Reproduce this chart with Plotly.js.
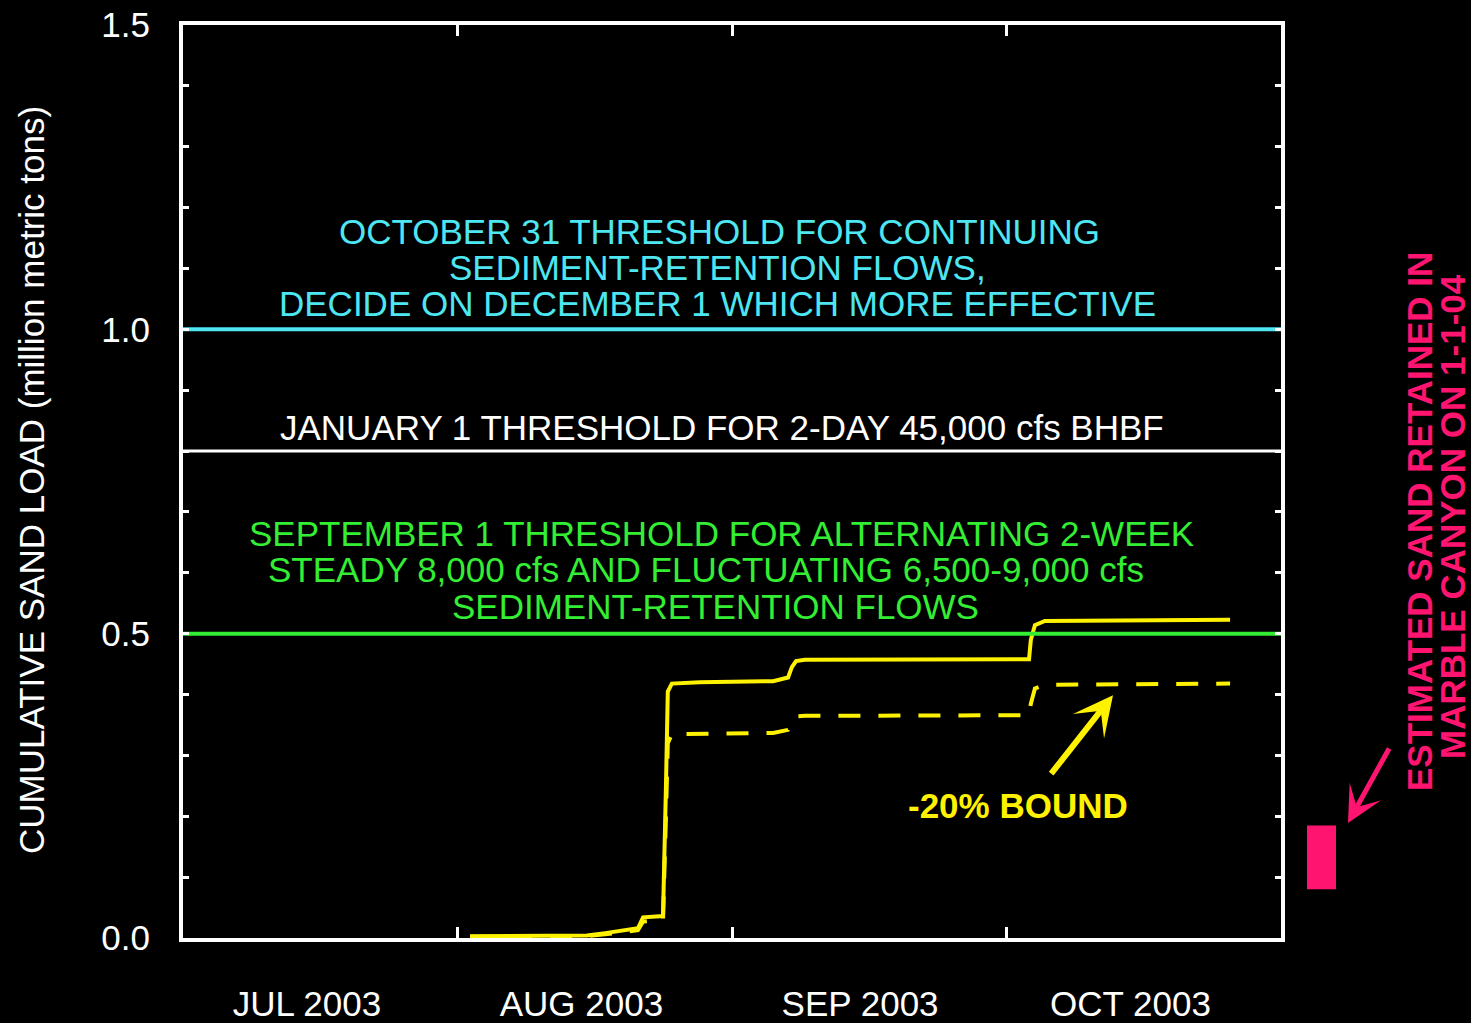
<!DOCTYPE html>
<html>
<head>
<meta charset="utf-8">
<script src="https://cdn.plot.ly/plotly-3.0.1.min.js"></script>
<style>html,body{margin:0;padding:0;background:#000;}#chart{width:1471px;height:1023px;}</style>
</head>
<body>
<div id="chart"></div>
<script>
// ---- data ----
var monthLabels = ['JUL 2003', 'AUG 2003', 'SEP 2003', 'OCT 2003'];
var monthLabelDates = ['2003-07-15', '2003-08-15', '2003-09-15', '2003-10-15'];
var monthBoundaryDates = ['2003-07-01', '2003-08-01', '2003-09-01', '2003-10-01', '2003-11-01'];

var loadDates = [
  '2003-08-02 10:00', '2003-08-15 15:00', '2003-08-17 16:00', '2003-08-20 03:00',
  '2003-08-21 09:00', '2003-08-21 23:00', '2003-08-24 05:00', '2003-08-24 13:00',
  '2003-08-24 18:00', '2003-08-25 05:00', '2003-08-28 09:00', '2003-09-05 12:00',
  '2003-09-07 03:00', '2003-09-07 13:00', '2003-09-08 00:00', '2003-09-08 23:00',
  '2003-10-03 13:00', '2003-10-03 18:00', '2003-10-04 05:00', '2003-10-05 08:00',
  '2003-10-26 06:00'
];
var sandLoad = [
  0.003, 0.004, 0.008, 0.013,
  0.016, 0.034, 0.036, 0.25,
  0.405, 0.418, 0.420, 0.422,
  0.428, 0.445, 0.455, 0.457,
  0.458, 0.49, 0.514, 0.521,
  0.523
];
var sandLoadMinus20 = [
  0.002, 0.003, 0.006, 0.010,
  0.013, 0.027, 0.029, 0.20,
  0.32, 0.335, 0.336, 0.337,
  0.342, 0.356, 0.364, 0.365,
  0.366, 0.385, 0.41, 0.416,
  0.418
];

var thresholdValues = [1.0, 0.8, 0.5];
var thresholdColors = ['#4de6f2', '#ffffff', '#33ee33'];

var retainedLow = [0.08];
var retainedHigh = [0.185];

var yTickVals = [0, 0.1, 0.2, 0.3, 0.4, 0.5, 0.6, 0.7, 0.8, 0.9, 1.0, 1.1, 1.2, 1.3, 1.4, 1.5];
var yTickText = ['0.0', '', '', '', '', '0.5', '', '', '', '', '1.0', '', '', '', '', '1.5'];

// ---- helpers: each calendar month gets equal width on the axis ----
function monthPos(s) {
  var p = s.split(' ');
  var d = p[0].split('-');
  var y = +d[0], m = +d[1], day = +d[2];
  var hh = 0;
  if (p[1]) { var t = p[1].split(':'); hh = +t[0] + (+t[1]) / 60; }
  var dim = new Date(y, m, 0).getDate();
  return (y - 2003) * 12 + (m - 7) + (day - 1 + hh / 24) / dim;
}

var FONT = 'Liberation Sans, Arial, sans-serif';
var FS = 35;
var YEL = '#fff200';
var PINK = '#ff1470';

var traces = [];
// threshold lines
thresholdValues.forEach(function (v, i) {
  traces.push({
    x: [monthPos(monthBoundaryDates[0]), monthPos(monthBoundaryDates[4])],
    y: [v, v], xaxis: 'x2', yaxis: 'y', mode: 'lines',
    line: {color: thresholdColors[i], width: i === 1 ? 3 : 4},
    hoverinfo: 'skip', showlegend: false
  });
});
// -20% bound
traces.push({
  x: loadDates.map(monthPos), y: sandLoadMinus20, xaxis: 'x', yaxis: 'y',
  mode: 'lines', line: {color: YEL, width: 4, dash: '22px,18px'},
  showlegend: false, hoverinfo: 'skip'
});
// main load
traces.push({
  x: loadDates.map(monthPos), y: sandLoad, xaxis: 'x', yaxis: 'y',
  mode: 'lines', line: {color: YEL, width: 4},
  showlegend: false, hoverinfo: 'skip'
});
// retained sand bar
traces.push({
  type: 'bar', x: [0.5], width: [1],
  base: retainedLow, y: retainedHigh.map(function (h, i) { return h - retainedLow[i]; }),
  xaxis: 'x3', yaxis: 'y', marker: {color: PINK, line: {width: 0}},
  showlegend: false, hoverinfo: 'skip'
});

var L = 183, W = 1288;
function px(p) { return (p - L) / W; }

function ann(text, xp, y, color, extra) {
  var a = {text: text, xref: 'paper', yref: 'y', x: px(xp), y: y,
    xanchor: 'center', yanchor: 'middle', showarrow: false,
    font: {family: FONT, size: FS, color: color}};
  if (extra) for (var k in extra) a[k] = extra[k];
  return a;
}

var annotations = [
  ann('OCTOBER 31 THRESHOLD FOR CONTINUING', 719, 1.16, '#4de6f2'),
  ann('SEDIMENT-RETENTION FLOWS,', 717, 1.102, '#4de6f2'),
  ann('DECIDE ON DECEMBER 1 WHICH MORE EFFECTIVE', 717, 1.043, '#4de6f2'),
  ann('JANUARY 1 THRESHOLD FOR 2-DAY 45,000 cfs BHBF', 722, 0.838, '#ffffff'),
  ann('SEPTEMBER 1 THRESHOLD FOR ALTERNATING 2-WEEK', 721, 0.664, '#33ee33'),
  ann('STEADY 8,000 cfs AND FLUCTUATING 6,500-9,000 cfs', 706, 0.605, '#33ee33'),
  ann('SEDIMENT-RETENTION FLOWS', 715, 0.545, '#33ee33'),
  ann('<b>-20% BOUND</b>', 1018, 0.2185, YEL),
  ann('<b>ESTIMATED SAND RETAINED IN</b>', 1420, 0.6835, PINK, {textangle: -90}),
  ann('<b>MARBLE CANYON ON 1-1-04</b>', 1453, 0.6917, PINK, {textangle: -90}),
  ann('CUMULATIVE SAND LOAD (million metric tons)', 32, 0.7525, '#ffffff', {textangle: -90}),
  {text: '', xref: 'paper', yref: 'y', x: px(1113), y: 0.399, ax: -63, ay: 80,
   showarrow: true, arrowhead: 3, arrowsize: 1.1, arrowwidth: 6, arrowcolor: YEL, standoff: 0},
  {text: '', xref: 'paper', yref: 'y', x: px(1348), y: 0.189, ax: 42, ay: -76,
   showarrow: true, arrowhead: 3, arrowsize: 1.2, arrowwidth: 5, arrowcolor: PINK, standoff: 0}
];

var layout = {
  width: 1471, height: 1023,
  paper_bgcolor: '#000', plot_bgcolor: '#000',
  margin: {l: L, r: 0, t: 25, b: 85},
  showlegend: false,
  font: {family: FONT, color: '#fff', size: FS},
  xaxis: {
    domain: [0, 1098 / W], range: [0, 4], showgrid: false, zeroline: false,
    tickvals: monthBoundaryDates.map(monthPos), showticklabels: false,
    ticks: 'inside', ticklen: 11, tickwidth: 3, tickcolor: '#fff',
    showline: true, linewidth: 4, linecolor: '#fff', mirror: 'ticks'
  },
  xaxis2: {
    overlaying: 'x', anchor: 'y', side: 'bottom', range: [0, 4],
    showgrid: false, zeroline: false, showline: false, ticks: '',
    tickvals: monthLabelDates.map(monthPos), ticktext: monthLabels,
    tickfont: {family: FONT, size: FS, color: '#fff'}, ticklabelstandoff: 42
  },
  xaxis3: {
    domain: [px(1307), px(1336)], anchor: 'y', range: [0, 1], visible: false, fixedrange: true
  },
  yaxis: {
    range: [0, 1.5], showgrid: false, zeroline: false,
    tickvals: yTickVals, ticktext: yTickText,
    ticks: 'inside', ticklen: 6, tickwidth: 3, tickcolor: '#fff',
    tickfont: {family: FONT, size: FS, color: '#fff'}, ticklabelstandoff: 22,
    showline: true, linewidth: 4, linecolor: '#fff', mirror: 'ticks'
  },
  annotations: annotations
};

Plotly.newPlot('chart', traces, layout, {displayModeBar: false, staticPlot: true});
</script>
</body>
</html>
